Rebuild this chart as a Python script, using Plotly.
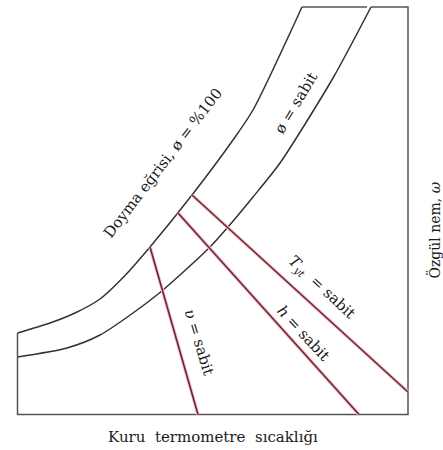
import plotly.graph_objects as go

# Chart coordinates: x = dry-bulb temperature (arbitrary units), y = specific humidity (arbitrary units)
sat_x = [0, 32.5, 57.5, 82.5, 107.5, 132.5, 174.5, 215.5, 235.5, 284.5]
sat_y = [81.5, 91.5, 101.5, 115.5, 139.0, 167.5, 219.5, 274.5, 304.5, 407.5]

rh_x = [0, 49.5, 82.5, 115.5, 145.5, 191.5, 210.5, 235.5, 262.5, 315.5, 353.5]
rh_y = [57.5, 66.5, 79.5, 101.5, 124.5, 166.5, 187.5, 217.5, 251.5, 336.5, 407.5]

box_x_max = 390.5
box_y_max = 407.5
top_gap_end = 349.5

v_x = [132.5, 180.5]
v_y = [167.5, 0]
h_x = [160.5, 341.5]
h_y = [201.5, 0]
t_x = [174.5, 390.5]
t_y = [219.5, 22.5]

labels = [
    ("Doyma eğrisi, ø = %100", 145.5, 251.5, -52.5),
    ("ø = sabit", 278.5, 311.5, -59),
    ("<i>T</i><sub><i>yt</i></sub>  = sabit", 304.5, 127.5, 43),
    ("<i>h</i> = sabit", 285.5, 81.5, 47),
    ("<i>υ</i> = sabit", 181.5, 72.5, 73),
]
xlabel = "Kuru  termometre  sıcaklığı"
ylabel = "Özgül nem, <i>ω</i>"

BLACK = "#333333"
RED = "#6e2533"
PINK = "#f3c4cb"
FONT = "DejaVu Serif"

fig = go.Figure()

curve_line = dict(color=BLACK, width=1.5, shape="spline", smoothing=0.7)
# saturation curve
fig.add_trace(go.Scatter(x=sat_x, y=sat_y, mode="lines", line=curve_line, hoverinfo="skip"))
# constant RH curve
fig.add_trace(go.Scatter(x=rh_x, y=rh_y, mode="lines", line=curve_line, hoverinfo="skip"))
# frame pieces
fig.add_trace(go.Scatter(x=[sat_x[-1], top_gap_end], y=[box_y_max, box_y_max], mode="lines",
                         line=dict(color="#555555", width=1.5), hoverinfo="skip"))
fig.add_trace(go.Scatter(x=[rh_x[-1], box_x_max, box_x_max, 0, 0],
                         y=[box_y_max, box_y_max, 0, 0, sat_y[0]], mode="lines",
                         line=dict(color="#555555", width=1.5), hoverinfo="skip"))

for xs, ys in [(v_x, v_y), (h_x, h_y), (t_x, t_y)]:
    fig.add_trace(go.Scatter(x=xs, y=ys, mode="lines", line=dict(color=PINK, width=3.5),
                             hoverinfo="skip"))
    fig.add_trace(go.Scatter(x=xs, y=ys, mode="lines", line=dict(color=RED, width=1.6),
                             hoverinfo="skip"))

for txt, x, y, ang in labels:
    fig.add_annotation(x=x, y=y, text=txt, textangle=ang, showarrow=False,
                       font=dict(family=FONT, size=15, color="#1a1a1a"))

fig.add_annotation(x=195.5, y=-22.5, text=xlabel, showarrow=False,
                   font=dict(family=FONT, size=15, color="#1a1a1a"))
fig.add_annotation(x=416.0, y=184.5, text=ylabel, textangle=-90, showarrow=False,
                   font=dict(family=FONT, size=14, color="#1a1a1a"))

fig.update_layout(
    width=443, height=450, margin=dict(l=0, r=0, t=0, b=0),
    paper_bgcolor="white", plot_bgcolor="white", showlegend=False,
    xaxis=dict(range=[-17.5, 425.5], visible=False, fixedrange=True),
    yaxis=dict(range=[-35.5, 414.5], visible=False, fixedrange=True),
)
fig.write_html("out.html")
